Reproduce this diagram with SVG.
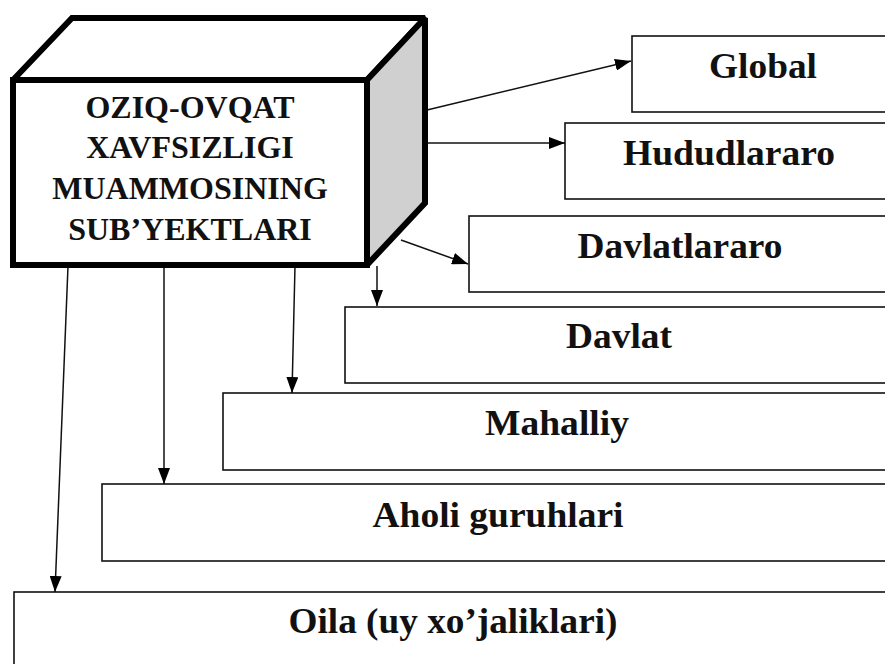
<svg xmlns="http://www.w3.org/2000/svg" width="885" height="664" viewBox="0 0 885 664">
<defs>
<marker id="ah" markerUnits="userSpaceOnUse" markerWidth="17" markerHeight="12" refX="16" refY="6" orient="auto">
<path d="M0,0 L16,6 L0,12 z" fill="#000"/>
</marker>
<style>
.box{fill:#fff;stroke:#111;stroke-width:1.6}
.lbl{font-family:"Liberation Serif","Times New Roman",serif;font-weight:bold;font-size:35px;fill:#111;text-anchor:middle}
.cube{stroke:#000;stroke-width:6;stroke-linejoin:miter;stroke-miterlimit:2}
.ctext{font-family:"Liberation Serif","Times New Roman",serif;font-weight:bold;font-size:32px;fill:#111;text-anchor:middle}
.con{stroke:#111;stroke-width:1.5;fill:none;marker-end:url(#ah)}
</style>
</defs>
<rect width="885" height="664" fill="#fff"/>
<g id="global"><rect class="box" x="632" y="36" width="270" height="76"/><text class="lbl" x="763" y="78" textLength="108" lengthAdjust="spacingAndGlyphs">Global</text></g>
<g id="hududlararo"><rect class="box" x="565" y="123" width="337" height="76"/><text class="lbl" x="729" y="165" textLength="212" lengthAdjust="spacingAndGlyphs">Hududlararo</text></g>
<g id="davlatlararo"><rect class="box" x="469" y="216" width="433" height="76"/><text class="lbl" x="680" y="258" textLength="205" lengthAdjust="spacingAndGlyphs">Davlatlararo</text></g>
<g id="davlat"><rect class="box" x="345" y="307" width="557" height="76"/><text class="lbl" x="619" y="348" textLength="106" lengthAdjust="spacingAndGlyphs">Davlat</text></g>
<g id="mahalliy"><rect class="box" x="223" y="393" width="679" height="77"/><text class="lbl" x="557" y="435" textLength="144" lengthAdjust="spacingAndGlyphs">Mahalliy</text></g>
<g id="aholi"><rect class="box" x="102" y="484" width="800" height="77"/><text class="lbl" x="498" y="527" textLength="251" lengthAdjust="spacingAndGlyphs">Aholi guruhlari</text></g>
<g id="oila"><rect class="box" x="14" y="592" width="888" height="90"/><text class="lbl" x="453" y="633" textLength="329" lengthAdjust="spacingAndGlyphs">Oila (uy xo’jaliklari)</text></g>
<g id="connectors">
<line class="con" x1="427" y1="110" x2="631" y2="61"/>
<line class="con" x1="427" y1="143" x2="565" y2="143"/>
<line class="con" x1="401" y1="240" x2="468" y2="264"/>
<line class="con" x1="377" y1="266" x2="377" y2="306"/>
<line class="con" x1="295" y1="266" x2="292" y2="393"/>
<line class="con" x1="164" y1="266" x2="164" y2="484"/>
<line class="con" x1="68" y1="266" x2="55" y2="592"/>
</g>
<g id="cube">
<polygon class="cube" points="13,80 72,18 425,18 367,80" fill="#fff"/>
<polygon class="cube" points="367,80 425,18 425,203 367,265" fill="#d0d0d0"/>
<rect class="cube" x="13" y="80" width="354" height="185" fill="#fff"/>
<text class="ctext" x="190" y="118">OZIQ-OVQAT</text>
<text class="ctext" x="190" y="158">XAVFSIZLIGI</text>
<text class="ctext" x="190" y="199">MUAMMOSINING</text>
<text class="ctext" x="190" y="240">SUB’YEKTLARI</text>
</g>
</svg>
